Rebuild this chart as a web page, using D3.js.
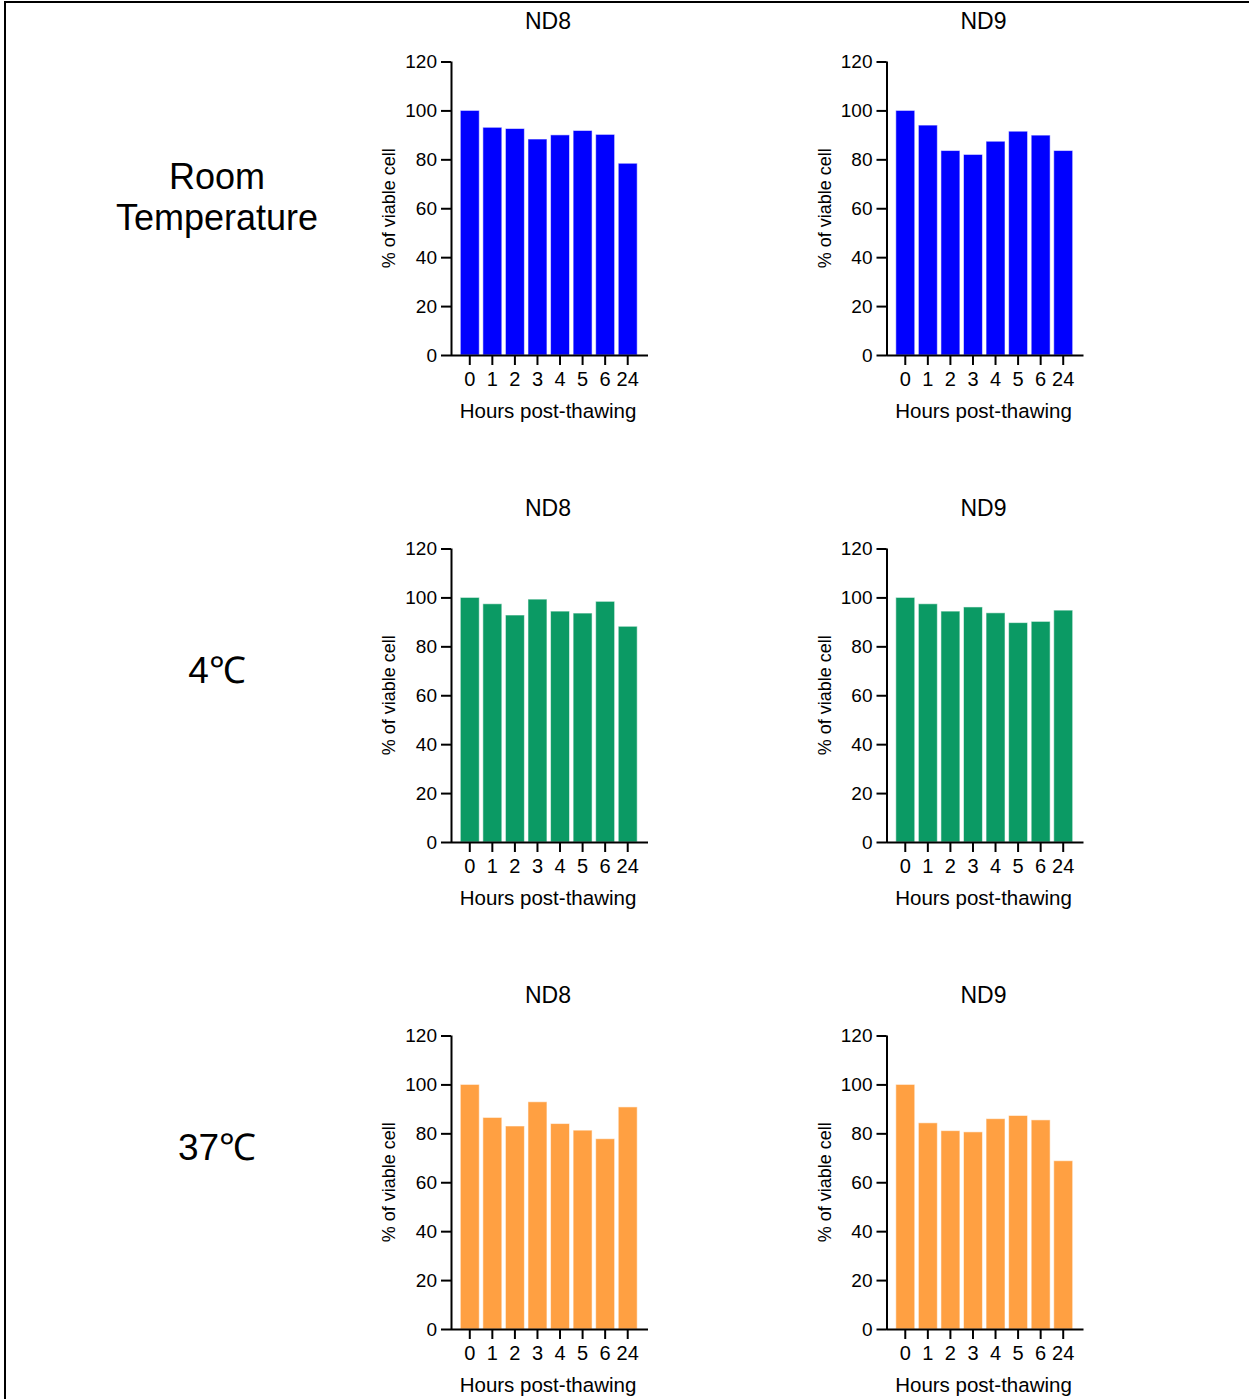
<!DOCTYPE html>
<html>
<head>
<meta charset="utf-8">
<script src="https://cdn.jsdelivr.net/npm/d3@7"></script>
<style>
  html, body { margin: 0; padding: 0; background: #fff; }
  svg text { font-family: "Liberation Sans", Arial, sans-serif; fill: #000; }
</style>
</head>
<body>
<svg id="chart" width="1249" height="1399"></svg>
<script>
// ---- data ----
const hours = ["0", "1", "2", "3", "4", "5", "6", "24"];
const yTicks = [0, 20, 40, 60, 80, 100, 120];
const conditions = ["Room Temperature", "4℃", "37℃"];
const donors = ["ND8", "ND9"];
const colors = ["#0000ff", "#0b9a64", "#ffa042"];

const rtND8  = [100, 93.1, 92.6, 88.3, 90.0, 91.8, 90.2, 78.4];
const rtND9  = [100, 94.0, 83.6, 82.0, 87.4, 91.5, 89.9, 83.6];
const c4ND8  = [100, 97.4, 92.8, 99.3, 94.4, 93.6, 98.4, 88.2];
const c4ND9  = [100, 97.4, 94.4, 96.1, 93.7, 89.7, 90.2, 94.8];
const c37ND8 = [100, 86.5, 83.0, 92.9, 84.0, 81.3, 77.8, 90.8];
const c37ND9 = [100, 84.3, 81.1, 80.6, 86.0, 87.3, 85.5, 68.8];

const series = [[rtND8, rtND9], [c4ND8, c4ND9], [c37ND8, c37ND9]];

// ---- layout ----
const svg = d3.select("#chart");
const colLeft = [451, 886.5];
const rowBase = [355, 842, 1329];
const plotH = 293.5;
const axisW = 197;
const rowLabelY = [[189, 230], [683], [1160]];

// frame lines
svg.append("line").attr("x1", 4).attr("x2", 1249).attr("y1", 2).attr("y2", 2)
  .attr("stroke", "#000").attr("stroke-width", 2);
svg.append("line").attr("x1", 5).attr("x2", 5).attr("y1", 1).attr("y2", 1399)
  .attr("stroke", "#000").attr("stroke-width", 2);

const y = d3.scaleLinear().domain([0, 120]).range([plotH, 0]);
const x = d3.scaleBand().domain(hours).range([7.5, 188]).paddingInner(0.16).paddingOuter(0.08);

conditions.forEach((cond, r) => {
  // row label
  if (r === 0) {
    cond.split(" ").forEach((p, i) => {
      svg.append("text").attr("x", 217).attr("y", rowLabelY[0][i])
        .attr("text-anchor", "middle").style("font-size", "36px").text(p);
    });
  } else {
    svg.append("text").attr("x", 217).attr("y", rowLabelY[r][0])
      .attr("text-anchor", "middle").style("font-size", "37px").text(cond);
  }

  donors.forEach((donor, c) => {
    const g = svg.append("g")
      .attr("transform", `translate(${colLeft[c]},${rowBase[r] - plotH})`);
    const vals = series[r][c];

    // bars
    g.selectAll("rect.bar").data(hours.map((h, i) => ({h, v: vals[i]})))
      .enter().append("rect").attr("class", "bar")
      .attr("x", d => x(d.h))
      .attr("width", x.bandwidth())
      .attr("y", d => y(d.v))
      .attr("height", d => y(0) - y(d.v))
      .attr("fill", colors[r])
      .attr("stroke", "rgba(255,255,255,0.55)")
      .attr("stroke-width", 1);

    // y axis
    const ya = g.append("g").call(d3.axisLeft(y).tickValues(yTicks).tickSize(10).tickSizeOuter(0).tickPadding(4));
    ya.select(".domain").attr("stroke-width", 2).attr("d", `M0.5,${plotH + 1}V0`);
    ya.selectAll(".tick line").attr("stroke-width", 2);
    ya.selectAll(".tick text").style("font-size", "19px").attr("font-family", null);

    // x axis
    const xa = g.append("g").attr("transform", `translate(0,${plotH})`)
      .call(d3.axisBottom(x).tickSize(10).tickSizeOuter(0).tickPadding(7));
    xa.select(".domain").attr("stroke-width", 2).attr("d", `M0,0.5H${axisW}`);
    xa.selectAll(".tick line").attr("stroke-width", 2);
    xa.selectAll(".tick text").style("font-size", "20px").attr("font-family", null);

    // titles
    g.append("text").attr("x", 97).attr("y", -33)
      .attr("text-anchor", "middle").style("font-size", "23px").text(donor);
    g.append("text").attr("x", 97).attr("y", plotH + 63)
      .attr("text-anchor", "middle").style("font-size", "20.5px").text("Hours post-thawing");
    g.append("text")
      .attr("transform", `translate(-56,${plotH / 2}) rotate(-90)`)
      .attr("text-anchor", "middle").style("font-size", "18px").text("% of viable cell");
  });
});
</script>
</body>
</html>
